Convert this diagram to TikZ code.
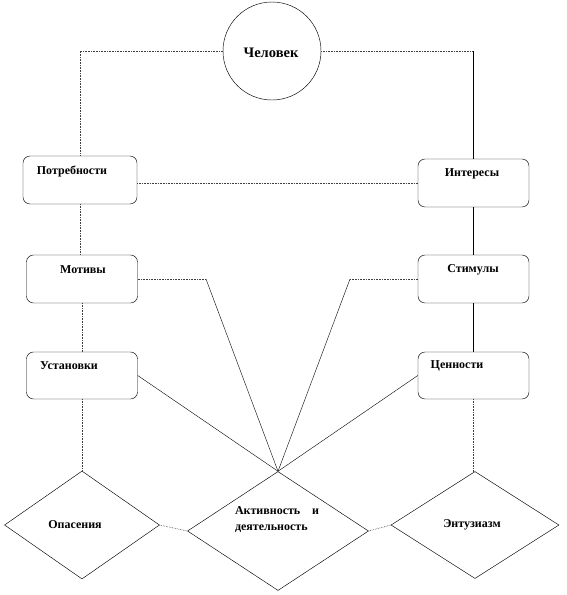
\documentclass[tikz,border=0pt]{standalone}
\usepackage{fontspec}
\setmainfont{Liberation Serif}
\usetikzlibrary{shapes.geometric}

\tikzset{
  boite/.style={draw, rounded corners=7pt, minimum width=111pt, minimum height=48pt, inner sep=0pt, line width=0.45pt},
  losange/.style={draw, diamond, inner sep=0pt, line width=0.45pt},
  lbl/.style={font=\bfseries\fontsize{12}{16}\selectfont, inner sep=0pt},
  lien/.style={densely dotted, line width=0.6pt, black!75},
  trait/.style={line width=0.4pt},
}

\begin{document}
\begin{tikzpicture}[x=1pt, y=-1pt]
  \useasboundingbox (0,0) rectangle (567,595);

  % Le cercle
  \node[draw, circle, minimum size=98pt, inner sep=0pt, line width=0.45pt] (chel) at (272,51) {};
  \node[lbl, font=\bfseries\fontsize{14.5}{16}\selectfont] (t-chel) at (271,53) {Человек};

  % Les rectangles
  \node[boite, minimum width=114pt] (potr) at (80,180) {};
  \node[boite] (inter) at (473.5,183) {};
  \node[boite] (motiv) at (82,279) {};
  \node[boite] (stim) at (473.5,279) {};
  \node[boite, minimum height=47pt] (ustan) at (82,375.5) {};
  \node[boite, minimum height=47pt] (tsen) at (473.5,375.5) {};

  % Les losanges
  \node[losange, minimum width=155pt, minimum height=108pt] (opas) at (82,525) {};
  \node[losange, minimum width=181pt, minimum height=119pt] (akt) at (278,531) {};
  \node[losange, minimum width=168pt, minimum height=107pt] (entuz) at (475,525) {};

  % Les lettres
  \node[lbl] (t-potr) at (72,171) {Потребности};
  \node[lbl] (t-inter) at (472,174) {Интересы};
  \node[lbl] (t-motiv) at (83,270) {Мотивы};
  \node[lbl] (t-stim) at (473,270) {Стимулы};
  \node[lbl] (t-ustan) at (69,366) {Установки};
  \node[lbl] (t-tsen) at (457,366) {Ценности};
  \node[lbl] (t-opas) at (75,525) {Опасения};
  \node[lbl, text width=84pt, align=left] (t-akt) at (277,520) {Активность\hfill и\\деятельность};
  \node[lbl] (t-entuz) at (472,525) {Энтузиазм};

  % Les liens
  \coordinate (hg) at (chel.west -| potr.north);
  \coordinate (hd) at (chel.east -| inter.north);
  \coordinate (mk) at (206,279);
  \coordinate (sk) at (350,279);
  \draw[lien] (chel.west) -- (hg) -- (potr.north);
  \draw[lien] (chel.east) -- (hd);
  \draw[trait] (hd) -- (inter.north);
  \draw[lien] (inter.west -| potr.east) -- (inter.west);
  \draw[lien] (potr.south) -- (potr.south |- motiv.north);
  \draw[lien] (motiv.south) -- (ustan.north);
  \draw[lien] (ustan.south) -- (opas.north);
  \draw[trait] (inter.south) -- (stim.north);
  \draw[trait] (stim.south) -- (tsen.north);
  \draw[lien] (tsen.south) -- ([yshift=-1pt]tsen.south |- entuz.north);
  \draw[lien] (motiv.east) -- (mk);
  \draw[trait] (mk) -- (akt.north);
  \draw[lien] (stim.west) -- (sk);
  \draw[trait] (sk) -- (akt.north);
  \draw[trait] (ustan.east) -- (akt.north);
  \draw[trait] (tsen.west) -- (akt.north);
  \draw[lien] (opas.east) -- (akt.west);
  \draw[lien] (akt.east) -- (entuz.west);
\end{tikzpicture}
\end{document}
